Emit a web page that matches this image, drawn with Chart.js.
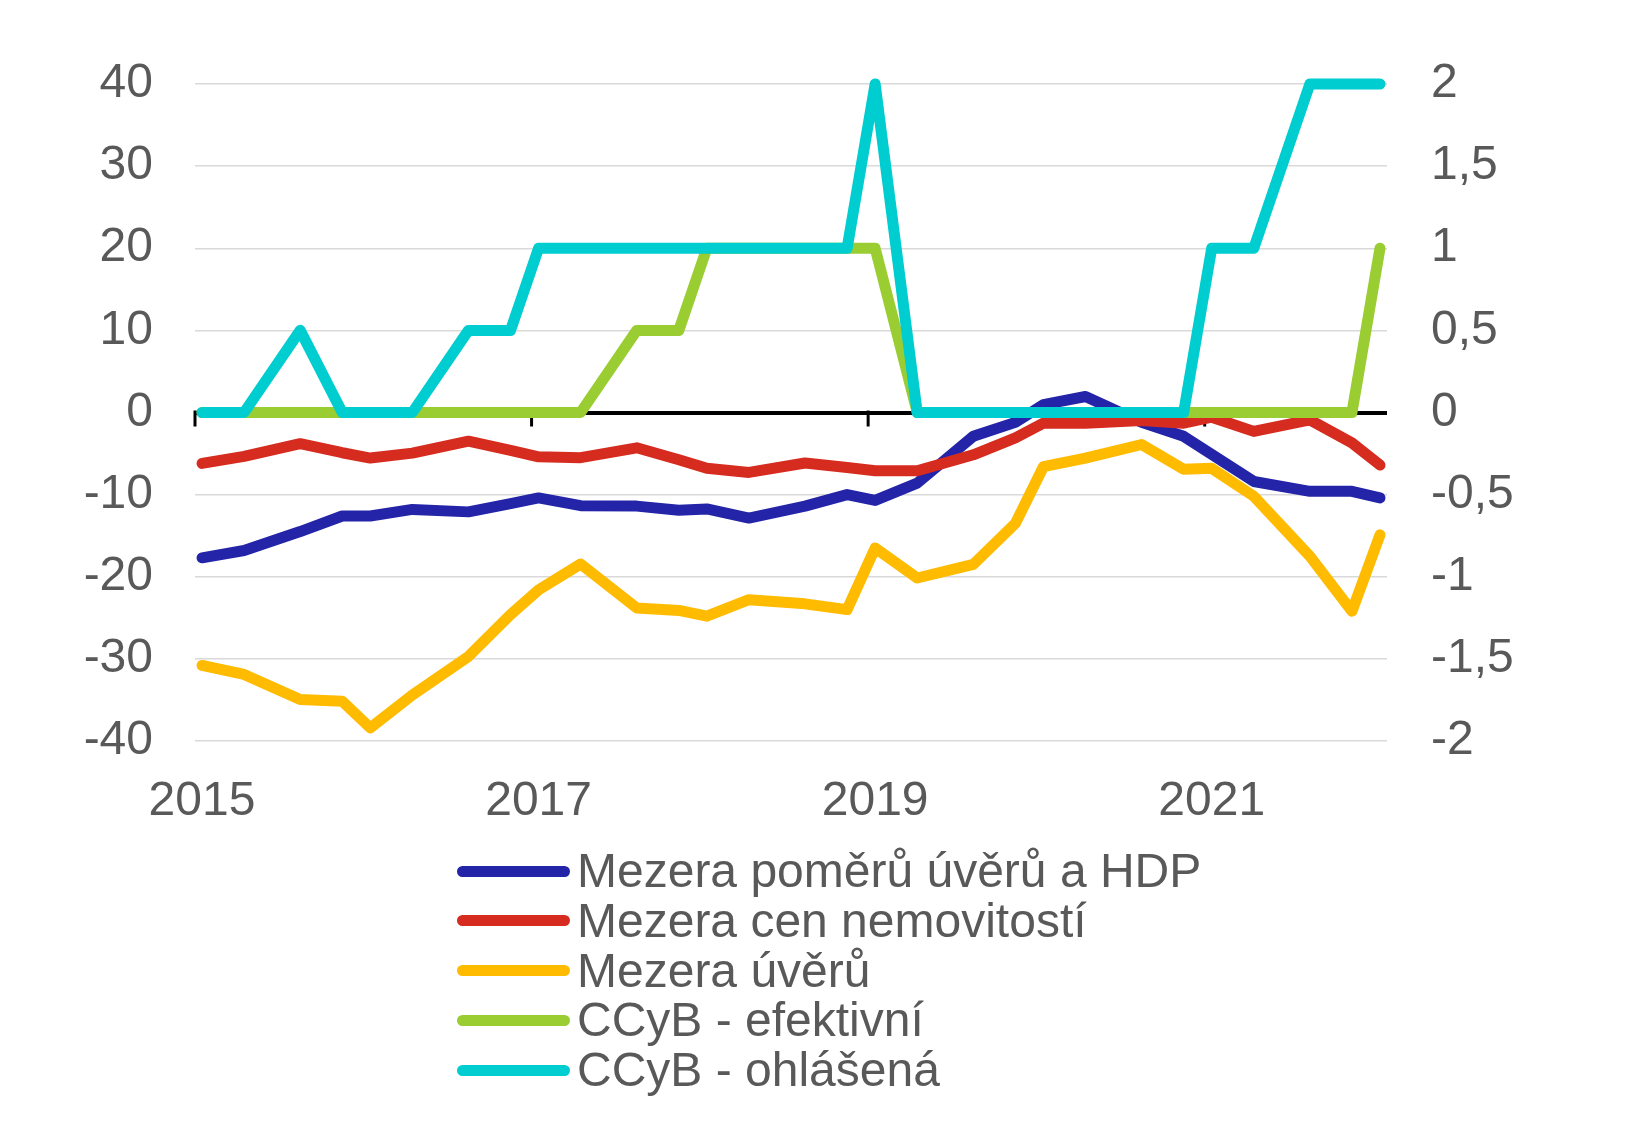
<!DOCTYPE html>
<html>
<head>
<meta charset="utf-8">
<script src="https://cdn.jsdelivr.net/npm/chart.js@4.4.1/dist/chart.umd.min.js"></script>
<style>
  html, body { margin: 0; padding: 0; background: #fff; }
  #wrap { position: relative; width: 1627px; height: 1126px; overflow: hidden; }
  #c { position: absolute; left: 0; top: 0; }
  .leg { position: absolute; left: 457px; height: 50px; line-height: 50px; white-space: nowrap;
         font-family: "Liberation Sans", Arial, sans-serif; font-size: 48px; color: #595959; }
  .leg .sw { position: absolute; left: 0; top: 19.5px; width: 113px; height: 11px; border-radius: 5.5px; }
  .leg .tx { position: absolute; left: 120px; top: 0; }
</style>
</head>
<body>
<div id="wrap">
  <canvas id="c" width="1627" height="1126"></canvas>
  <div id="legend"></div>
</div>
<script>
// ---- data ----
const dates = [
  '2015-01','2015-04','2015-08','2015-11',
  '2016-01','2016-04','2016-08','2016-11',
  '2017-01','2017-04','2017-08','2017-11',
  '2018-01','2018-04','2018-08','2018-11',
  '2019-01','2019-04','2019-08','2019-11',
  '2020-01','2020-04','2020-08','2020-11',
  '2021-01','2021-04','2021-08','2021-11',
  '2022-01'
];
const seriesNames = [
  'Mezera poměrů úvěrů a HDP',
  'Mezera cen nemovitostí',
  'Mezera úvěrů',
  'CCyB - efektivní',
  'CCyB - ohlášená'
];
const creditGdpGap = [-17.7, -16.8, -14.5, -12.6, -12.6, -11.8, -12.1, -11.1, -10.4, -11.35, -11.4, -11.9,
  -11.75, -12.85, -11.4, -10.0, -10.7, -8.6, -2.9, -1.2, 0.95, 1.95, -1.2, -2.9, -5.1, -8.4, -9.6, -9.6, -10.4];
const housePriceGap = [-6.2, -5.35, -3.8, -4.9, -5.55, -4.95, -3.5, -4.6, -5.4, -5.5, -4.3, -5.75,
  -6.8, -7.3, -6.15, -6.7, -7.1, -7.1, -5.15, -3.1, -1.3, -1.3, -0.97, -1.3, -0.57, -2.3, -0.9, -3.7, -6.4];
const creditGap = [-30.8, -31.9, -34.95, -35.15, -38.4, -34.4, -29.7, -24.6, -21.6, -18.45, -23.8, -24.1,
  -24.8, -22.8, -23.3, -24.0, -16.5, -20.15, -18.5, -13.5, -6.6, -5.55, -3.9, -6.9, -6.8, -10.2, -17.5, -24.2, -14.9];
const ccybEffective = [0, 0, 0, 0, 0, 0, 0, 0, 0, 0, 0.5, 0.5, 1, 1, 1, 1, 1, 0, 0, 0, 0, 0, 0, 0, 0, 0, 0, 0, 1];
const ccybAnnounced = [0, 0, 0.5, 0, 0, 0, 0.5, 0.5, 1, 1, 1, 1, 1, 1, 1, 1, 2, 0, 0, 0, 0, 0, 0, 0, 1, 1, 2, 2, 2];
const yearTicks = [2015, 2017, 2019, 2021];
const leftTicks = [-40, -30, -20, -10, 0, 10, 20, 30, 40];
const rightTicks = [-2, -1.5, -1, -0.5, 0, 0.5, 1, 1.5, 2];
const colors = ['#2424a8', '#d62b1f', '#ffbb00', '#9acd32', '#00cdd0'];

// ---- helpers ----
const monthIdx = d => { const [y, m] = d.split('-').map(Number); return (y - 2015) * 12 + (m - 1) + 0.5; };
const pts = arr => arr.map((v, i) => ({ x: monthIdx(dates[i]), y: v }));
const FONT = '"Liberation Sans", Arial, sans-serif';
const GREY = '#595959';

const mk = (i, data, axis, order) => ({
  label: seriesNames[i], data: pts(data), yAxisID: axis, order,
  borderColor: colors[i], backgroundColor: colors[i], borderWidth: 11,
  pointRadius: 0, pointHoverRadius: 0, tension: 0, fill: false,
  borderJoinStyle: 'round', borderCapStyle: 'round', clip: false
});

const tickMarks = {
  id: 'tickMarks',
  beforeDatasetsDraw(chart) {
    const xs = chart.scales.x, ys = chart.scales.y, ctx = chart.ctx;
    const y0 = ys.getPixelForValue(0);
    ctx.save();
    ctx.strokeStyle = '#000'; ctx.lineWidth = 3;
    yearTicks.forEach(yr => {
      const x = xs.getPixelForValue((yr - 2015) * 12);
      ctx.beginPath(); ctx.moveTo(x, y0 - 2); ctx.lineTo(x, y0 + 14); ctx.stroke();
    });
    ctx.restore();
  }
};

new Chart(document.getElementById('c'), {
  type: 'line',
  data: {
    datasets: [
      mk(0, creditGdpGap, 'y', 4),
      mk(1, housePriceGap, 'y', 3),
      mk(2, creditGap, 'y', 2),
      mk(3, ccybEffective, 'y1', 1),
      mk(4, ccybAnnounced, 'y1', 0)
    ]
  },
  options: {
    responsive: false, animation: false, devicePixelRatio: 1,
    layout: { padding: { top: 84, left: 0, right: 0, bottom: 0 } },
    plugins: { legend: { display: false }, tooltip: { enabled: false } },
    events: [],
    scales: {
      x: {
        type: 'linear', position: 'bottom', min: 0, max: 85,
        afterBuildTicks: s => { s.ticks = yearTicks.map(y => ({ value: (y - 2015) * 12 + 0.5 })); },
        afterFit: s => { s.height = 385; },
        grid: { display: false, drawTicks: false },
        border: { display: false },
        ticks: {
          autoSkip: false, maxRotation: 0, padding: 32, color: GREY,
          font: { family: FONT, size: 48 },
          callback: v => String(Math.round(2015 + (v - 0.5) / 12))
        }
      },
      y: {
        position: 'left', min: -40, max: 40,
        afterBuildTicks: s => { s.ticks = leftTicks.map(v => ({ value: v })); },
        afterFit: s => { s.width = 195; },
        grid: {
          drawTicks: false,
          color: c => c.tick && c.tick.value === 0 ? '#000000' : '#d9d9d9',
          lineWidth: c => c.tick && c.tick.value === 0 ? 4 : 1.5
        },
        border: { display: false },
        ticks: { padding: 42, color: GREY, font: { family: FONT, size: 48 }, callback: v => String(v) }
      },
      y1: {
        position: 'right', min: -2, max: 2,
        afterBuildTicks: s => { s.ticks = rightTicks.map(v => ({ value: v })); },
        afterFit: s => { s.width = 240; },
        grid: { display: false, drawTicks: false, drawOnChartArea: false },
        border: { display: false },
        ticks: { padding: 44, color: GREY, font: { family: FONT, size: 48 },
          callback: v => String(v).replace('.', ',') }
      }
    }
  },
  plugins: [tickMarks]
});

// ---- legend (HTML) ----
const legend = document.getElementById('legend');
seriesNames.forEach((name, i) => {
  const row = document.createElement('div');
  row.className = 'leg';
  row.style.top = (846 + i * 49.8) + 'px';
  const sw = document.createElement('div');
  sw.className = 'sw'; sw.style.background = colors[i];
  const tx = document.createElement('span');
  tx.className = 'tx'; tx.textContent = name;
  row.appendChild(sw); row.appendChild(tx);
  legend.appendChild(row);
});
</script>
</body>
</html>
